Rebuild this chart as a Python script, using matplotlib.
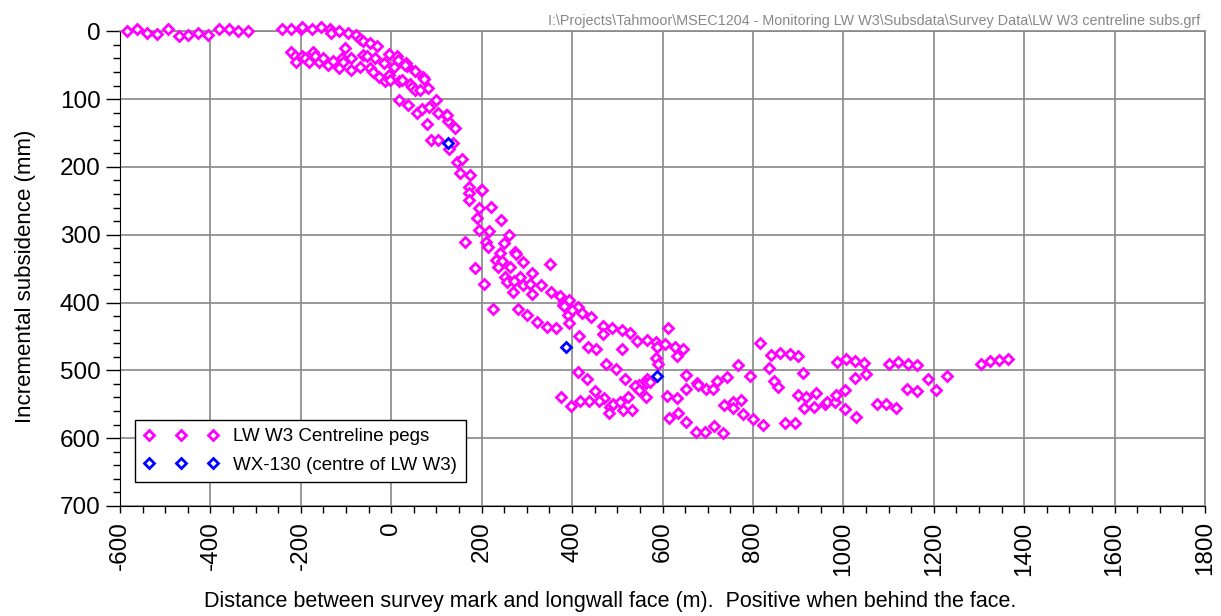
import matplotlib.pyplot as plt
from matplotlib.ticker import MultipleLocator

plt.rcParams['font.family'] = ['Liberation Sans', 'DejaVu Sans']
plt.rcParams['axes.unicode_minus'] = False

# LW W3 centreline pegs: distance from face (m), incremental subsidence (mm)
peg_dist = [-585, -563, -541, -519, -493, -469, -450, -428, -405, -381, -359, -338, -316,
            -242, -222, -200, -197, -176, -155, -135, -134, -115, -95, -78, -70, -63, -47, -31, -102,
            -6, 12, 14, 33, 34, 53, 71, 82, 100, 121, 126, 141,
            -222, -213, -211, -198, -191, -181, -174, -169, -159, -150, -139, -128, -115, -110, -106,
            -90, -88, -69, -62, -54, -47, -40, -36, -28, -17, -14, -6, -3, 6, 16, 23, 30, 42, 45,
            53, 64, 73, 16, 36, 56, 67, 84, 104, 123, 80, 88, 104, 136, 128, 146, 156, 151, 174,
            171, 171, 171, 199, 201, 193, 221, 190, 242, 194, 216, 163, 209, 215, 261, 250, 241,
            274, 277, 232, 246, 292, 237, 263, 185, 351, 252, 285, 311, 255, 272, 292, 307, 331,
            205, 270, 311, 353, 373, 381, 394, 379, 392, 394, 414, 421, 441, 226, 280, 301, 323,
            344, 364, 381, 399,
            468, 469, 488, 510, 527, 544, 565, 586, 587, 605, 613, 628, 633, 646, 586, 591,
            416, 436, 453, 510, 476, 497, 412, 432, 517, 566, 563, 572, 549, 539, 547, 563, 524,
            451, 471, 460, 438, 417, 375, 398, 484, 491, 506, 512, 482, 532,
            611, 631, 653, 653, 676, 679, 696, 712, 721, 743, 766, 615, 634, 653, 673, 694, 714,
            733, 735, 757, 755, 774, 777, 801, 823, 794, 816, 839, 836, 860, 881, 900, 910, 847,
            856, 871, 892, 899, 917, 939, 914, 936, 959, 963, 982, 984, 1004, 1004, 1027, 985,
            1005, 1026, 1046, 1026, 1050, 1074, 1094, 1117, 1101, 1122, 1142, 1162, 1140, 1164,
            1187, 1206, 1229, 1304, 1324, 1345, 1365]
peg_subs = [0, -4, 2, 4, -3, 7, 5, 2, 6, -3, -3, -1, -1,
            -3, -3, -3, -6, -3, -6, -3, 2, 0, 2, 5, 11, 14, 18, 21, 25,
            33, 37, 42, 47, 51, 59, 68, 84, 101, 123, 133, 142,
            31, 37, 45, 37, 40, 45, 31, 37, 45, 40, 49, 44, 54, 40, 45,
            40, 57, 52, 35, 37, 54, 60, 40, 67, 47, 74, 64, 72, 52, 74, 72, 50, 77, 82,
            87, 87, 70, 101, 109, 121, 114, 111, 121, 124, 137, 161, 160, 164, 173, 193, 188, 209, 212,
            229, 238, 249, 234, 234, 260, 259, 276, 278, 293, 294, 311, 310, 318, 300, 312, 327,
            326, 328, 337, 338, 340, 347, 347, 349, 343, 362, 363, 357, 370, 368, 374, 372, 374,
            373, 384, 388, 384, 390, 397, 396, 404, 418, 430, 406, 415, 422, 410, 410, 419, 428,
            436, 437, 405, 411,
            435, 446, 437, 440, 445, 456, 455, 458, 465, 461, 437, 465, 479, 469, 482, 491,
            450, 465, 469, 468, 491, 498, 502, 513, 513, 513, 518, 517, 522, 523, 529, 539, 540,
            530, 541, 545, 545, 545, 539, 552, 554, 550, 546, 559, 563, 558,
            538, 541, 507, 528, 519, 522, 528, 528, 515, 510, 492, 570, 563, 576, 591, 591, 582,
            592, 551, 546, 556, 544, 564, 571, 580, 509, 459, 477, 496, 474, 476, 479, 504, 515,
            524, 578, 578, 536, 539, 534, 556, 554, 550, 546, 546, 536, 529, 557, 569, 487,
            483, 486, 489, 512, 505, 549, 549, 556, 491, 487, 490, 492, 527, 530,
            513, 529, 508, 490, 486, 485, 483]

# WX-130 (centre of LW W3)
wx_dist = [125, 386, 587]
wx_subs = [164, 465, 508]

fig = plt.figure(figsize=(12.21, 6.16), dpi=100)
ax = fig.add_axes([0.0983, 0.1786, 0.8886, 0.7706])

ax.plot(peg_dist, peg_subs, 'D', color='#FF00FF', mfc='white', ms=5, mew=2,
        ls='none', clip_on=False, zorder=3, label='LW W3 Centreline pegs')
ax.plot(wx_dist, wx_subs, 'D', color='#0000FF', mfc='white', ms=5, mew=2,
        ls='none', clip_on=False, zorder=4, label='WX-130 (centre of LW W3)')

ax.set_xlim(-600, 1800)
ax.set_ylim(700, 0)
ax.xaxis.set_major_locator(MultipleLocator(200))
ax.xaxis.set_minor_locator(MultipleLocator(50))
ax.yaxis.set_major_locator(MultipleLocator(100))
ax.yaxis.set_minor_locator(MultipleLocator(20))
ax.grid(True, which='major', color='#888888', lw=1.2)
ax.set_axisbelow(True)

ax.tick_params(axis='y', which='major', direction='out', length=10, width=1, labelsize=17.5, pad=4)
ax.tick_params(axis='y', which='minor', direction='out', length=5, width=1)
ax.tick_params(axis='x', which='both', direction='out', length=5, width=1)
ax.tick_params(axis='x', which='major', labelsize=17.5, labelrotation=90, pad=6)

for s in ['top', 'right']:
    ax.spines[s].set_color('#888888')
    ax.spines[s].set_linewidth(1.2)

ax.set_ylabel('Incremental subsidence (mm)', fontsize=16, labelpad=17)
ax.set_xlabel('Distance between survey mark and longwall face (m).  Positive when behind the face.',
              fontsize=15.5, labelpad=11)
# labels in the original are not centred on the plot area
ax.xaxis.label.set_x(0.452)
ax.yaxis.label.set_y(0.483)

leg = ax.legend(loc='lower left', bbox_to_anchor=(0.0138, 0.0506), borderaxespad=0,
                numpoints=3, fontsize=13.5, fancybox=False, framealpha=1, edgecolor='black',
                handlelength=4, handletextpad=0.8, borderpad=0.45, labelspacing=0.6)
leg.get_frame().set_linewidth(1)

fig.text(0.983, 0.966, r'I:\Projects\Tahmoor\MSEC1204 - Monitoring LW W3\Subsdata\Survey Data\LW W3 centreline subs.grf',
         ha='right', va='center', fontsize=10.4, color='#888888')

fig.savefig('out.png', dpi=100)
